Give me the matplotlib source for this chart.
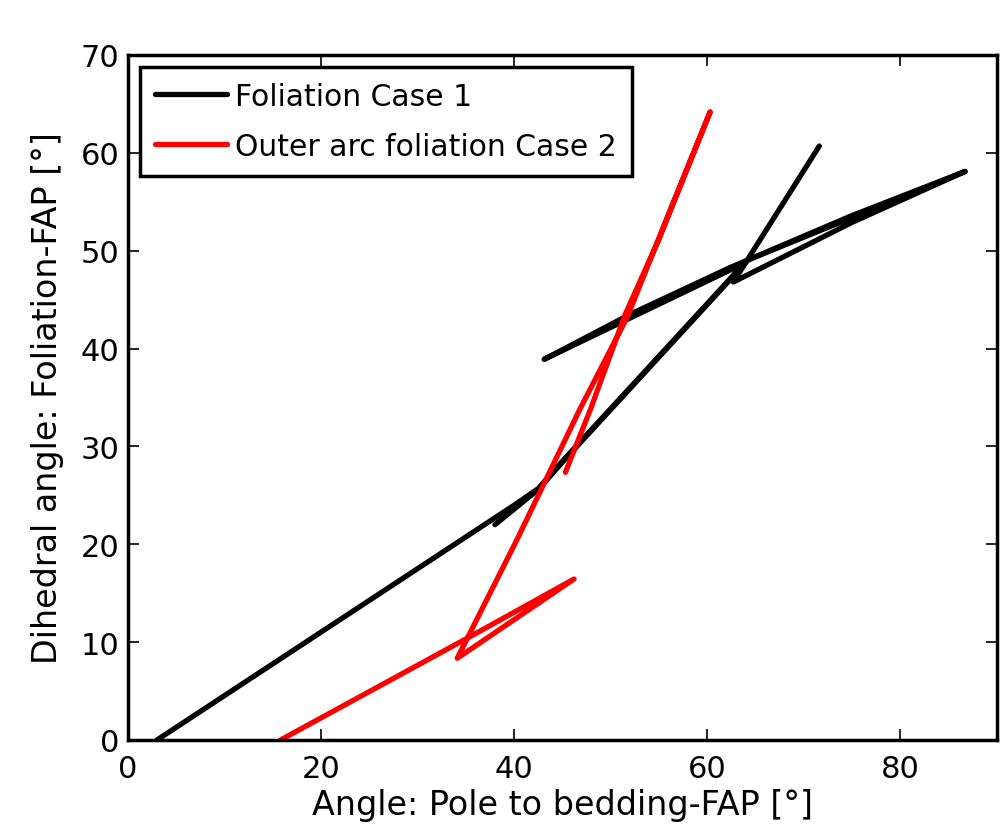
import numpy as np
import matplotlib
matplotlib.use("Agg")
import matplotlib.pyplot as plt

# Foliation Case 1 (black) - two traced pieces
case1_a_x = [3.0, 40.0, 42.5, 45.0, 64.1, 75.0, 86.7, 75.0, 62.7, 71.6]
case1_a_y = [0.0, 24.0, 25.7, 28.5, 49.0, 53.4, 58.1, 52.9, 46.8, 60.7]
case1_b_x = [38.0, 42.5, 45.0, 64.0, 43.1, 52.0, 62.4, 75.0, 86.7]
case1_b_y = [22.0, 25.6, 28.4, 48.8, 38.9, 43.5, 48.3, 53.6, 58.1]

# Outer arc foliation Case 2 (red)
case2_x = [15.8, 35.5, 46.2, 34.1, 40.3, 46.8, 51.7, 56.7, 60.3, 55.0, 51.5, 47.9, 45.3]
case2_y = [0.0, 10.6, 16.45, 8.35, 20.5, 33.8, 43.2, 55.5, 64.2, 51.2, 43.5, 33.8, 27.35]

labels = ["Foliation Case 1", "Outer arc foliation Case 2"]
xticks = [0, 20, 40, 60, 80]
yticks = [0, 10, 20, 30, 40, 50, 60, 70]

plt.rcParams['font.family'] = ['DejaVu Sans']

fig = plt.figure(figsize=(10.03, 8.37), dpi=100)
ax = fig.add_axes([0.1276, 0.1147, 0.8664, 0.8184])

lw = 3.8
ax.plot(case1_a_x, case1_a_y, color='black', lw=lw, solid_capstyle='round',
        solid_joinstyle='round', label=labels[0])
ax.plot(case1_b_x, case1_b_y, color='black', lw=lw, solid_capstyle='round',
        solid_joinstyle='round')
ax.plot(case2_x, case2_y, color='red', lw=lw, solid_capstyle='round',
        solid_joinstyle='round', label=labels[1])

ax.set_xlim(0, 90)
ax.set_ylim(0, 70)
ax.set_xticks(xticks)
ax.set_yticks(yticks)
ax.tick_params(direction='in', length=8, width=1.2, top=True, right=True,
               labelsize=22)
ax.tick_params(axis='x', pad=10)
ax.tick_params(axis='y', pad=6)
for s in ax.spines.values():
    s.set_linewidth(2.5)

ax.set_xlabel("Angle: Pole to bedding-FAP [°]", fontsize=24, labelpad=4)
ax.set_ylabel("Dihedral angle: Foliation-FAP [°]", fontsize=24, labelpad=12)

leg = ax.legend(loc='upper left', fontsize=21.5, handlelength=2.4, handletextpad=0.3,
                borderpad=0.5, labelspacing=0.7, fancybox=False, framealpha=1,
                edgecolor='black', borderaxespad=0.4)
leg.get_frame().set_linewidth(2.5)

fig.savefig("out.png", dpi=100)
